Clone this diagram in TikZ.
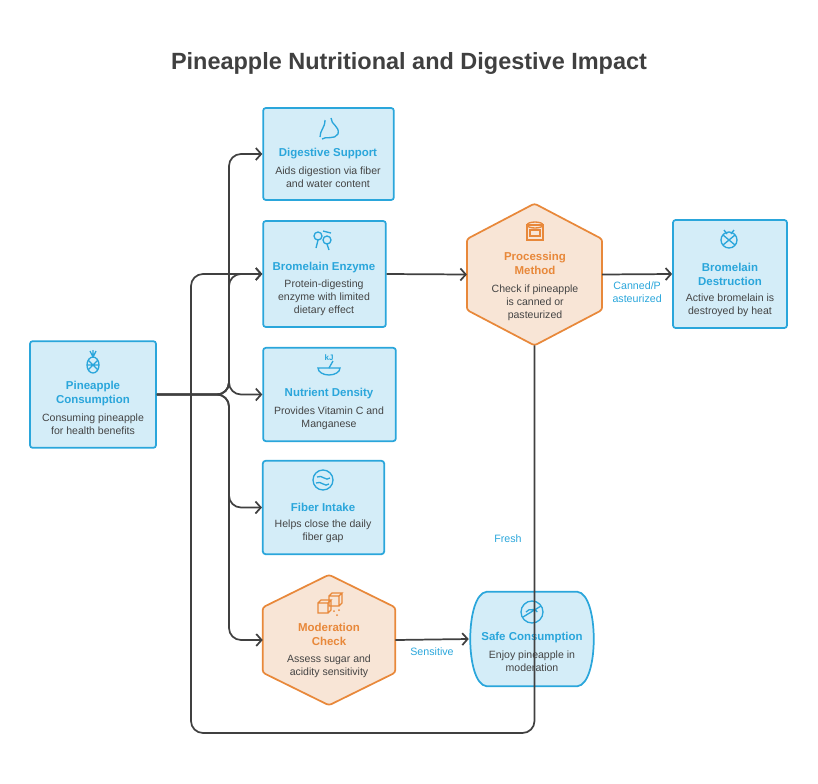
\documentclass[tikz,border=0pt]{standalone}
\usepackage{fontspec}
\setmainfont{Liberation Sans}
\usetikzlibrary{calc,arrows.meta}

\definecolor{cardfill}{HTML}{D4EDF8}
\definecolor{cardline}{HTML}{2AA6DB}
\definecolor{hexfill}{HTML}{F8E5D6}
\definecolor{hexline}{HTML}{E8883A}
\definecolor{bodytext}{HTML}{444444}
\definecolor{linkgray}{HTML}{404040}

\tikzset{
  card/.style={draw=cardline, fill=cardfill, line width=1.3pt, rounded corners=2pt},
  frame/.style={draw=none, inner sep=0pt},
  head/.style={text=cardline, font=\bfseries\fontsize{8.6}{10.5}\selectfont, align=center},
  hexhead/.style={head, text=hexline},
  body/.style={text=bodytext, font=\fontsize{7.9}{9.6}\selectfont, align=center, anchor=north, inner sep=0pt},
  conn/.style={draw=linkgray, line width=1.3pt, rounded corners=9pt, -{Straight Barb[length=4pt,width=9pt]}},
  tag/.style={text=cardline, font=\fontsize{8}{9.6}\selectfont, align=center},
  icon/.style={line width=1pt, cardline},
}

\begin{document}
\begin{tikzpicture}[x=0.75pt,y=-0.75pt]
\useasboundingbox (0,0) rectangle (818,783);

\node[font=\bfseries\fontsize{17.6}{20}\selectfont, text=linkgray] (title) at (409,63) {Pineapple Nutritional and Digestive Impact};

% cards
\node[card, minimum width=94.5pt, minimum height=80pt] (pc) at (93,394.5) {};
\node[card, minimum width=98pt, minimum height=69pt] (dig) at (328.5,154) {};
\node[card, minimum width=92pt, minimum height=79.5pt] (brom) at (324.5,274) {};
\node[card, minimum width=99.5pt, minimum height=70pt] (nut) at (329.5,394.5) {};
\node[card, minimum width=91pt, minimum height=70pt] (fib) at (323.5,507.5) {};
\node[card, minimum width=85.5pt, minimum height=81pt] (des) at (730,274) {};

% hexagons
\node[frame, minimum width=101pt, minimum height=106pt] (proc) at (534.5,274.5) {};
\node[frame, minimum width=99pt, minimum height=97.5pt] (mod) at (329,640) {};
\foreach \h in {proc,mod}
  \draw[fill=hexfill, draw=hexline, line width=1.3pt, rounded corners=2pt]
    (\h.north) -- ($(\h.north east)!0.25!(\h.south east)$) -- ($(\h.north east)!0.75!(\h.south east)$)
    -- (\h.south) -- ($(\h.north west)!0.75!(\h.south west)$) -- ($(\h.north west)!0.25!(\h.south west)$) -- cycle;

% safe consumption
\node[frame, minimum width=94.5pt, minimum height=70.5pt] (safe) at (532,639) {};
\draw[card, rounded corners=0pt] ($(safe.north west)+(18,0)$) -- ($(safe.north east)+(-18,0)$)
  .. controls ($(safe.north east)+(4,2)$) and ($(safe.south east)+(4,-2)$) .. ($(safe.south east)+(-18,0)$)
  -- ($(safe.south west)+(18,0)$)
  .. controls ($(safe.south west)+(-4,-2)$) and ($(safe.north west)+(-4,2)$) .. cycle;

% texts
\node[head] at (93,394) {Pineapple\\Consumption};
\node[body] at (93,414) {Consuming pineapple\\for health benefits};
\node[head] at (328,154) {Digestive Support};
\node[body] at (328,167) {Aids digestion via fiber\\and water content};
\node[head] at (324,268) {Bromelain Enzyme};
\node[body] at (324,280) {Protein-digesting\\enzyme with limited\\dietary effect};
\node[head] at (329,394) {Nutrient Density};
\node[body] at (329,407) {Provides Vitamin C and\\Manganese};
\node[head] at (323,507) {Fiber Intake};
\node[body] at (323,520) {Helps close the daily\\fiber gap};
\node[hexhead] at (329,634.5) {Moderation\\Check};
\node[body] at (329,655) {Assess sugar and\\acidity sensitivity};
\node[hexhead] at (535,263.5) {Processing\\Method};
\node[body] at (535,285) {Check if pineapple\\is canned or\\pasteurized};
\node[head] at (730,274) {Bromelain\\Destruction};
\node[body] at (730,294) {Active bromelain is\\destroyed by heat};
\node[head] at (532,638) {Safe Consumption};
\node[body] at (532,651) {Enjoy pineapple in\\moderation};

% icons
\begin{scope}[icon]
  \draw (93,365) ellipse (6 and 8); \draw (88,360) -- (98,370) (98,360) -- (88,370) (87,365) -- (99,365);
  \draw (93,357) -- (90,351) (93,357) -- (96,351) (93,357) -- (93,350);
  \draw (325,120) .. controls (325,128) and (320,130) .. (320,137) (331,118) .. controls (331,125) and (340,126) .. (338,134) .. controls (335,140) and (325,136) .. (322,139);
  \draw (318,236) circle (4) (327,240) circle (4) (323,231) -- (331,233) (318,240) -- (316,248) (327,244) -- (329,250);
  \draw (318,368) arc (180:0:11 and 7) -- cycle; \draw (329,368) -- (333,361);
  \node[font=\bfseries\fontsize{6}{6}\selectfont, text=cardline] at (329,358) {kJ};
  \draw (323,480) circle (10); \draw (317,477) .. controls (322,474) and (326,482) .. (330,478) (316,483) .. controls (321,480) and (325,488) .. (329,484);
  \draw (729,240) circle (8); \draw (723,235) -- (735,245) (735,235) -- (723,245) (724,230) -- (727,234) (734,230) -- (731,234);
  \draw (532,612) circle (11); \draw (523,617) -- (541,606) (526,612) arc (200:340:6 and 4);
\end{scope}
\begin{scope}[line width=1pt, hexline]
  \draw (527,225) rectangle (543,240); \draw (535,225) ellipse (8 and 3); \draw (530,230) rectangle (540,236);
  \draw (318,603) rectangle (328,613) (318,603) -- (321,600) -- (331,600) -- (328,603) (331,600) -- (331,610) -- (328,613);
  \draw (329,596) rectangle (339,606) (329,596) -- (332,593) -- (342,593) -- (339,596) (342,593) -- (342,603) -- (339,606);
  \fill (334,611) circle (1) (339,610) circle (1) (337,615) circle (1);
\end{scope}

% connectors
\coordinate (hub) at (229,394.5);
\coordinate (lb) at (191,733);
\foreach \t in {dig,brom,nut,fib,mod}
  \draw[conn] (pc.east) -- (hub) |- (\t.west);
\draw[conn] (brom.east) -- (proc.west);
\draw[conn] (proc.east) -- (des.west) node[tag, pos=0.5, below=2pt] {Canned/P\\asteurized};
\draw[conn] (mod.east) -- (safe.west) node[tag, pos=0.5, below=2pt] {Sensitive};
\draw[conn] (proc.south) |- (lb) |- (brom.west);
\node[tag] (fresh) at (508,539) {Fresh};
\end{tikzpicture}
\end{document}
